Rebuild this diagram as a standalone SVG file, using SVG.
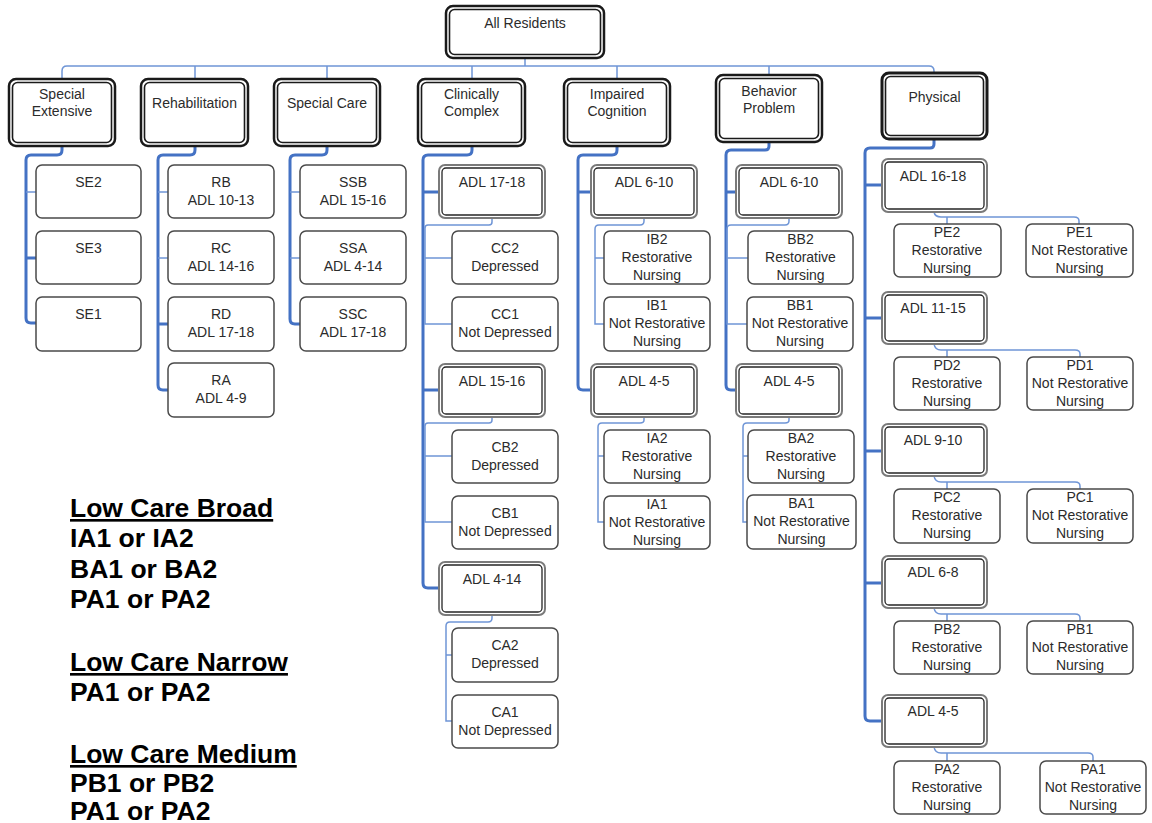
<svg xmlns="http://www.w3.org/2000/svg" width="1152" height="823" viewBox="0 0 1152 823">
<style>
text{font-family:"Liberation Sans",Arial,sans-serif;font-size:14px;fill:#2b2b2b;text-anchor:middle}
.leg{font-size:26.5px;font-weight:bold;fill:#000;text-anchor:start}
.u{text-decoration:underline}
.leaf{fill:#fff;stroke:#4a4a4a;stroke-width:1.5}
.ao{fill:#fff;stroke:#7a7a7a;stroke-width:2}
.ai{fill:none;stroke:#262626;stroke-width:1.3}
.co{fill:#fff;stroke:#1a1a1a;stroke-width:2.5}
.ci{fill:none;stroke:#1a1a1a;stroke-width:1.6}
.thick{fill:none;stroke:#4472c4;stroke-width:3;stroke-linecap:round}
.thin{fill:none;stroke:#6f95d6;stroke-width:1.5}
</style>
<g id="connectors">
<path class="thin" d="M525,58 V66 M62,79 V71 Q62,66 67,66 H929 Q934,66 934,71 V73 M195,66 V79 M327,66 V79 M472,66 V79 M617,66 V79 M769,66 V75"/>
<path class="thick" d="M62,146 V150 Q62,155 57,155 H31 Q26,155 26,160 V318 Q26,323 31,323 H36 M26,258 H36"/>
<path class="thin" d="M26,192 H36"/>
<path class="thick" d="M195,146 V150 Q195,155 190,155 H163 Q158,155 158,160 V385 Q158,390 163,390 H168 M158,324 H168"/>
<path class="thin" d="M158,192 H168 M158,258 H168"/>
<path class="thick" d="M327,146 V150 Q327,155 322,155 H295 Q290,155 290,160 V319 Q290,324 295,324 H300"/>
<path class="thin" d="M290,192 H300 M290,258 H300"/>
<path class="thick" d="M472,146 V150 Q472,155 467,155 H428 Q423,155 423,160 V583 Q423,588 428,588 H439 M423,192 H439 M423,390 H439"/>
<path class="thin" d="M492,218 V222 Q492,225 489,225 H428 Q425,225 425,228 V324 H452 M425,258 H452 M492,417 V420 Q492,423 489,423 H428 Q425,423 425,426 V522 H452 M425,456 H452 M492,615 V618 Q492,622 488,622 H450 Q446,622 446,626 V721 H452 M446,655 H452"/>
<path class="thick" d="M617,146 V150 Q617,155 612,155 H583 Q578,155 578,160 V385 Q578,390 583,390 H591 M578,192 H591"/>
<path class="thin" d="M644,218 V221 Q644,225 640,225 H599 Q595,225 595,229 V324 H604 M595,258 H604 M644,417 V420 Q644,423 640,423 H602 Q598,423 598,427 V522 H604 M598,456 H604"/>
<path class="thick" d="M769,142 V146 Q769,150 765,150 H731 Q726,150 726,155 V385 Q726,390 731,390 H736 M726,192 H736"/>
<path class="thin" d="M789,218 V221 Q789,225 785,225 H731 Q727,225 727,229 V324 H747 M727,258 H748 M789,417 V420 Q789,423 785,423 H747 Q743,423 743,427 V522 H747 M743,456 H748"/>
<path class="thick" d="M934,139 V144 Q934,148 930,148 H870 Q865,148 865,153 V716 Q865,721 870,721 H882 M865,185 H882 M865,318 H882 M865,451 H882 M865,583 H882"/>
<path class="thin" d="M934,212 Q935,217 941,217 H1074 Q1079,217 1079,221 V224 M947,217 V224 M934,344 Q935,350 941,350 H1075 Q1080,350 1080,354 V357 M947,350 V357 M934,476 Q935,482 941,482 H1075 Q1080,482 1080,486 V489 M947,482 V489 M934,608 Q935,614 941,614 H1075 Q1080,614 1080,618 V621 M947,614 V621 M934,747 Q935,753 941,753 H1088 Q1093,753 1093,757 V761 M947,753 V761"/>
</g>
<g id="n-root"><rect class="co" x="446" y="6" width="158" height="52" rx="7"/><rect class="ci" x="449.5" y="9.5" width="151" height="45" rx="5"/><text x="525" y="28">All Residents</text></g>
<g id="n-se"><rect class="co" x="9" y="79" width="106" height="67" rx="7"/><rect class="ci" x="12.5" y="82.5" width="99" height="60" rx="5"/><text x="62" y="99">Special</text><text x="62" y="116">Extensive</text></g>
<g id="n-rh"><rect class="co" x="141" y="79" width="107" height="67" rx="7"/><rect class="ci" x="144.5" y="82.5" width="100" height="60" rx="5"/><text x="194.5" y="108">Rehabilitation</text></g>
<g id="n-sc"><rect class="co" x="274" y="79" width="106" height="67" rx="7"/><rect class="ci" x="277.5" y="82.5" width="99" height="60" rx="5"/><text x="327" y="108">Special Care</text></g>
<g id="n-cc"><rect class="co" x="418" y="79" width="107" height="67" rx="7"/><rect class="ci" x="421.5" y="82.5" width="100" height="60" rx="5"/><text x="471.5" y="99">Clinically</text><text x="471.5" y="116">Complex</text></g>
<g id="n-ic"><rect class="co" x="564" y="79" width="106" height="67" rx="7"/><rect class="ci" x="567.5" y="82.5" width="99" height="60" rx="5"/><text x="617" y="99">Impaired</text><text x="617" y="116">Cognition</text></g>
<g id="n-bp"><rect class="co" x="716" y="75" width="106" height="67" rx="7"/><rect class="ci" x="719.5" y="78.5" width="99" height="60" rx="5"/><text x="769" y="96">Behavior</text><text x="769" y="113">Problem</text></g>
<g id="n-ph"><rect class="co" x="882" y="73" width="105" height="66" rx="7" style="stroke-width:3"/><rect class="ci" x="885.5" y="76.5" width="98" height="59" rx="5"/><text x="934.5" y="102">Physical</text></g>

<g id="n-se2"><rect class="leaf" x="36" y="165" width="105" height="53" rx="6"/><text x="88.5" y="187">SE2</text></g>
<g id="n-se3"><rect class="leaf" x="36" y="231" width="105" height="53" rx="6"/><text x="88.5" y="253">SE3</text></g>
<g id="n-se1"><rect class="leaf" x="36" y="297" width="105" height="54" rx="6"/><text x="88.5" y="319">SE1</text></g>

<g id="n-rb"><rect class="leaf" x="168" y="165" width="106" height="53" rx="6"/><text x="221" y="187">RB</text><text x="221" y="205">ADL 10-13</text></g>
<g id="n-rc"><rect class="leaf" x="168" y="231" width="106" height="53" rx="6"/><text x="221" y="253">RC</text><text x="221" y="271">ADL 14-16</text></g>
<g id="n-rd"><rect class="leaf" x="168" y="297" width="106" height="54" rx="6"/><text x="221" y="319">RD</text><text x="221" y="337">ADL 17-18</text></g>
<g id="n-ra"><rect class="leaf" x="168" y="363" width="106" height="54" rx="6"/><text x="221" y="385">RA</text><text x="221" y="403">ADL 4-9</text></g>

<g id="n-ssb"><rect class="leaf" x="300" y="165" width="106" height="53" rx="6"/><text x="353" y="187">SSB</text><text x="353" y="205">ADL 15-16</text></g>
<g id="n-ssa"><rect class="leaf" x="300" y="231" width="106" height="53" rx="6"/><text x="353" y="253">SSA</text><text x="353" y="271">ADL 4-14</text></g>
<g id="n-ssc"><rect class="leaf" x="300" y="297" width="106" height="54" rx="6"/><text x="353" y="319">SSC</text><text x="353" y="337">ADL 17-18</text></g>

<g id="n-cc-adl1718"><rect class="ao" x="439" y="165" width="106" height="53" rx="6"/><rect class="ai" x="442" y="168" width="100" height="47" rx="4"/><text x="492" y="187">ADL 17-18</text></g>
<g id="n-cc2"><rect class="leaf" x="452" y="231" width="106" height="53" rx="6"/><text x="505" y="253">CC2</text><text x="505" y="271">Depressed</text></g>
<g id="n-cc1"><rect class="leaf" x="452" y="297" width="106" height="54" rx="6"/><text x="505" y="319">CC1</text><text x="505" y="337">Not Depressed</text></g>
<g id="n-cc-adl1516"><rect class="ao" x="439" y="364" width="106" height="53" rx="6"/><rect class="ai" x="442" y="367" width="100" height="47" rx="4"/><text x="492" y="386">ADL 15-16</text></g>
<g id="n-cb2"><rect class="leaf" x="452" y="430" width="106" height="53" rx="6"/><text x="505" y="452">CB2</text><text x="505" y="470">Depressed</text></g>
<g id="n-cb1"><rect class="leaf" x="452" y="496" width="106" height="53" rx="6"/><text x="505" y="518">CB1</text><text x="505" y="536">Not Depressed</text></g>
<g id="n-cc-adl414"><rect class="ao" x="439" y="562" width="106" height="53" rx="6"/><rect class="ai" x="442" y="565" width="100" height="47" rx="4"/><text x="492" y="584">ADL 4-14</text></g>
<g id="n-ca2"><rect class="leaf" x="452" y="628" width="106" height="54" rx="6"/><text x="505" y="650">CA2</text><text x="505" y="668">Depressed</text></g>
<g id="n-ca1"><rect class="leaf" x="452" y="695" width="106" height="53" rx="6"/><text x="505" y="717">CA1</text><text x="505" y="735">Not Depressed</text></g>

<g id="n-ic-adl610"><rect class="ao" x="591" y="165" width="106" height="53" rx="6"/><rect class="ai" x="594" y="168" width="100" height="47" rx="4"/><text x="644" y="187">ADL 6-10</text></g>
<g id="n-ib2"><rect class="leaf" x="604" y="231" width="106" height="53" rx="6"/><text x="657" y="244">IB2</text><text x="657" y="262">Restorative</text><text x="657" y="280">Nursing</text></g>
<g id="n-ib1"><rect class="leaf" x="604" y="297" width="106" height="54" rx="6"/><text x="657" y="310">IB1</text><text x="657" y="328">Not Restorative</text><text x="657" y="346">Nursing</text></g>
<g id="n-ic-adl45"><rect class="ao" x="591" y="364" width="106" height="53" rx="6"/><rect class="ai" x="594" y="367" width="100" height="47" rx="4"/><text x="644" y="386">ADL 4-5</text></g>
<g id="n-ia2"><rect class="leaf" x="604" y="430" width="106" height="53" rx="6"/><text x="657" y="443">IA2</text><text x="657" y="461">Restorative</text><text x="657" y="479">Nursing</text></g>
<g id="n-ia1"><rect class="leaf" x="604" y="496" width="106" height="53" rx="6"/><text x="657" y="509">IA1</text><text x="657" y="527">Not Restorative</text><text x="657" y="545">Nursing</text></g>

<g id="n-bp-adl610"><rect class="ao" x="736" y="165" width="106" height="53" rx="6"/><rect class="ai" x="739" y="168" width="100" height="47" rx="4"/><text x="789" y="187">ADL 6-10</text></g>
<g id="n-bb2"><rect class="leaf" x="748" y="231" width="105" height="53" rx="6"/><text x="800.5" y="244">BB2</text><text x="800.5" y="262">Restorative</text><text x="800.5" y="280">Nursing</text></g>
<g id="n-bb1"><rect class="leaf" x="747" y="297" width="106" height="54" rx="6"/><text x="800" y="310">BB1</text><text x="800" y="328">Not Restorative</text><text x="800" y="346">Nursing</text></g>
<g id="n-bp-adl45"><rect class="ao" x="736" y="364" width="106" height="53" rx="6"/><rect class="ai" x="739" y="367" width="100" height="47" rx="4"/><text x="789" y="386">ADL 4-5</text></g>
<g id="n-ba2"><rect class="leaf" x="748" y="430" width="106" height="53" rx="6"/><text x="801" y="443">BA2</text><text x="801" y="461">Restorative</text><text x="801" y="479">Nursing</text></g>
<g id="n-ba1"><rect class="leaf" x="747" y="495" width="109" height="54" rx="6"/><text x="801.5" y="508">BA1</text><text x="801.5" y="526">Not Restorative</text><text x="801.5" y="544">Nursing</text></g>

<g id="n-ph-adl1618"><rect class="ao" x="882" y="159" width="105" height="53" rx="6"/><rect class="ai" x="885" y="162" width="99" height="47" rx="4"/><text x="933" y="181">ADL 16-18</text></g>
<g id="n-pe2"><rect class="leaf" x="894" y="224" width="107" height="53" rx="6"/><text x="947" y="237">PE2</text><text x="947" y="255">Restorative</text><text x="947" y="273">Nursing</text></g>
<g id="n-pe1"><rect class="leaf" x="1026" y="224" width="107" height="53" rx="6"/><text x="1079.5" y="237">PE1</text><text x="1079.5" y="255">Not Restorative</text><text x="1079.5" y="273">Nursing</text></g>
<g id="n-ph-adl1115"><rect class="ao" x="882" y="292" width="105" height="52" rx="6"/><rect class="ai" x="885" y="295" width="99" height="46" rx="4"/><text x="933" y="313">ADL 11-15</text></g>
<g id="n-pd2"><rect class="leaf" x="894" y="357" width="106" height="53" rx="6"/><text x="947" y="370">PD2</text><text x="947" y="388">Restorative</text><text x="947" y="406">Nursing</text></g>
<g id="n-pd1"><rect class="leaf" x="1027" y="357" width="106" height="53" rx="6"/><text x="1080" y="370">PD1</text><text x="1080" y="388">Not Restorative</text><text x="1080" y="406">Nursing</text></g>
<g id="n-ph-adl910"><rect class="ao" x="882" y="424" width="105" height="52" rx="6"/><rect class="ai" x="885" y="427" width="99" height="46" rx="4"/><text x="933" y="445">ADL 9-10</text></g>
<g id="n-pc2"><rect class="leaf" x="894" y="489" width="106" height="54" rx="6"/><text x="947" y="502">PC2</text><text x="947" y="520">Restorative</text><text x="947" y="538">Nursing</text></g>
<g id="n-pc1"><rect class="leaf" x="1027" y="489" width="106" height="54" rx="6"/><text x="1080" y="502">PC1</text><text x="1080" y="520">Not Restorative</text><text x="1080" y="538">Nursing</text></g>
<g id="n-ph-adl68"><rect class="ao" x="882" y="556" width="105" height="52" rx="6"/><rect class="ai" x="885" y="559" width="99" height="46" rx="4"/><text x="933" y="577">ADL 6-8</text></g>
<g id="n-pb2"><rect class="leaf" x="894" y="621" width="106" height="53" rx="6"/><text x="947" y="634">PB2</text><text x="947" y="652">Restorative</text><text x="947" y="670">Nursing</text></g>
<g id="n-pb1"><rect class="leaf" x="1027" y="621" width="106" height="53" rx="6"/><text x="1080" y="634">PB1</text><text x="1080" y="652">Not Restorative</text><text x="1080" y="670">Nursing</text></g>
<g id="n-ph-adl45"><rect class="ao" x="882" y="695" width="105" height="52" rx="6"/><rect class="ai" x="885" y="698" width="99" height="46" rx="4"/><text x="933" y="716">ADL 4-5</text></g>
<g id="n-pa2"><rect class="leaf" x="894" y="761" width="106" height="53" rx="6"/><text x="947" y="774">PA2</text><text x="947" y="792">Restorative</text><text x="947" y="810">Nursing</text></g>
<g id="n-pa1"><rect class="leaf" x="1040" y="761" width="106" height="53" rx="6"/><text x="1093" y="774">PA1</text><text x="1093" y="792">Not Restorative</text><text x="1093" y="810">Nursing</text></g>

<g id="legend">
<text class="leg u" x="70" y="517">Low Care Broad</text>
<text class="leg" x="70" y="547">IA1 or IA2</text>
<text class="leg" x="70" y="578">BA1 or BA2</text>
<text class="leg" x="70" y="608">PA1 or PA2</text>
<text class="leg u" x="70" y="671">Low Care Narrow</text>
<text class="leg" x="70" y="701">PA1 or PA2</text>
<text class="leg u" x="70" y="763">Low Care Medium</text>
<text class="leg" x="70" y="792">PB1 or PB2</text>
<text class="leg" x="70" y="820">PA1 or PA2</text>
</g>
</svg>
